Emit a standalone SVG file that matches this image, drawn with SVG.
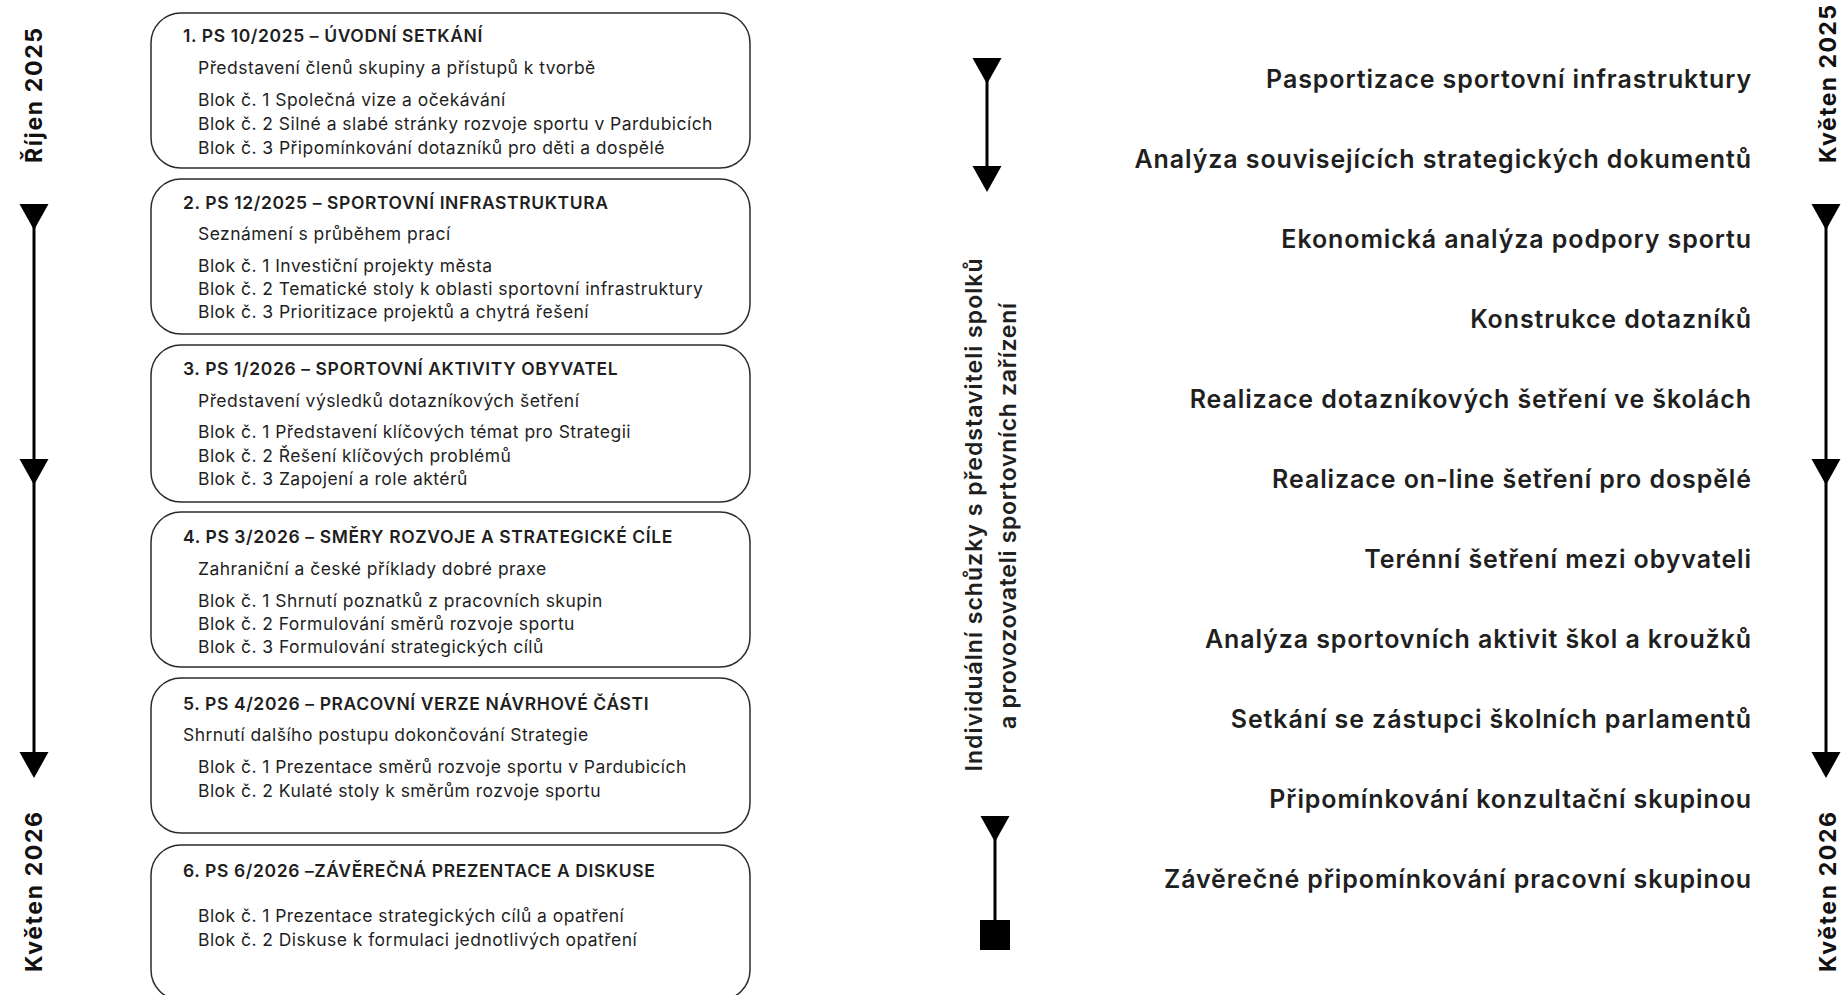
<svg xmlns="http://www.w3.org/2000/svg" xmlns:xlink="http://www.w3.org/1999/xlink" width="1843" height="995" viewBox="0 0 1843 995">
<style>
  .box { fill: #ffffff; stroke: #2b2b2b; stroke-width: 1.5; }
  .ttl { font-family: Inter, "Liberation Sans", sans-serif; font-size: 17.5px; font-weight: 600; letter-spacing: 0.6px; fill: #1f1f1f; }
  .txt { font-family: Inter, "Liberation Sans", sans-serif; font-size: 17.5px; font-weight: 400; letter-spacing: 0.45px; fill: #1f1f1f; }
  .step { font-family: Inter, "Liberation Sans", sans-serif; font-size: 25px; font-weight: 600; letter-spacing: 0.9px; fill: #1f1f1f; text-anchor: end; }
  .date { font-family: Inter, "Liberation Sans", sans-serif; font-size: 23px; font-weight: 700; fill: #111111; }
  .mid { font-family: Inter, "Liberation Sans", sans-serif; font-size: 23px; font-weight: 600; fill: #1f1f1f; text-anchor: middle; }
  .line { stroke: #000000; stroke-width: 3; fill: none; }
  .head { fill: #000000; }
</style>
<defs>
  <path id="tri" d="M -14.5 0 L 14.5 0 L 0 26 Z"/>
</defs>

<!-- left date labels -->
<g id="date-rijen-2025"><text class="date" transform="translate(42,163) rotate(-90)" textLength="135" lengthAdjust="spacing">Říjen 2025</text></g>
<g id="date-kveten-2026-left"><text class="date" transform="translate(42,972) rotate(-90)" textLength="160" lengthAdjust="spacing">Květen 2026</text></g>

<!-- right date labels -->
<g id="date-kveten-2025"><text class="date" transform="translate(1836,163) rotate(-90)" textLength="158" lengthAdjust="spacing">Květen 2025</text></g>
<g id="date-kveten-2026-right"><text class="date" transform="translate(1836,972) rotate(-90)" textLength="160" lengthAdjust="spacing">Květen 2026</text></g>

<!-- boxes -->
<g id="box1">
  <rect class="box" x="151" y="13" width="599" height="155" rx="30" ry="30"/>
  <text class="ttl" x="183" y="42">1. PS 10/2025 – ÚVODNÍ SETKÁNÍ</text>
  <text class="txt" x="198" y="74">Představení členů skupiny a přístupů k tvorbě</text>
  <text class="txt" x="198" y="106">Blok č. 1 Společná vize a očekávání</text>
  <text class="txt" x="198" y="130">Blok č. 2 Silné a slabé stránky rozvoje sportu v Pardubicích</text>
  <text class="txt" x="198" y="154">Blok č. 3 Připomínkování dotazníků pro děti a dospělé</text>
</g>
<g id="box2">
  <rect class="box" x="151" y="179" width="599" height="155" rx="30" ry="30"/>
  <text class="ttl" x="183" y="209">2. PS 12/2025 – SPORTOVNÍ INFRASTRUKTURA</text>
  <text class="txt" x="198" y="240">Seznámení s průběhem prací</text>
  <text class="txt" x="198" y="272">Blok č. 1 Investiční projekty města</text>
  <text class="txt" x="198" y="295">Blok č. 2 Tematické stoly k oblasti sportovní infrastruktury</text>
  <text class="txt" x="198" y="318">Blok č. 3 Prioritizace projektů a chytrá řešení</text>
</g>
<g id="box3">
  <rect class="box" x="151" y="345" width="599" height="157" rx="30" ry="30"/>
  <text class="ttl" x="183" y="375">3. PS 1/2026 – SPORTOVNÍ AKTIVITY OBYVATEL</text>
  <text class="txt" x="198" y="407">Představení výsledků dotazníkových šetření</text>
  <text class="txt" x="198" y="438">Blok č. 1 Představení klíčových témat pro Strategii</text>
  <text class="txt" x="198" y="462">Blok č. 2 Řešení klíčových problémů</text>
  <text class="txt" x="198" y="485">Blok č. 3 Zapojení a role aktérů</text>
</g>
<g id="box4">
  <rect class="box" x="151" y="512" width="599" height="155" rx="30" ry="30"/>
  <text class="ttl" x="183" y="543">4. PS 3/2026 – SMĚRY ROZVOJE A STRATEGICKÉ CÍLE</text>
  <text class="txt" x="198" y="575">Zahraniční a české příklady dobré praxe</text>
  <text class="txt" x="198" y="607">Blok č. 1 Shrnutí poznatků z pracovních skupin</text>
  <text class="txt" x="198" y="630">Blok č. 2 Formulování směrů rozvoje sportu</text>
  <text class="txt" x="198" y="653">Blok č. 3 Formulování strategických cílů</text>
</g>
<g id="box5">
  <rect class="box" x="151" y="678" width="599" height="155" rx="30" ry="30"/>
  <text class="ttl" x="183" y="710">5. PS 4/2026 – PRACOVNÍ VERZE NÁVRHOVÉ ČÁSTI</text>
  <text class="txt" x="183" y="741">Shrnutí dalšího postupu dokončování Strategie</text>
  <text class="txt" x="198" y="773">Blok č. 1 Prezentace směrů rozvoje sportu v Pardubicích</text>
  <text class="txt" x="198" y="797">Blok č. 2 Kulaté stoly k směrům rozvoje sportu</text>
</g>
<g id="box6">
  <rect class="box" x="151" y="845" width="599" height="155" rx="30" ry="30"/>
  <text class="ttl" x="183" y="877">6. PS 6/2026 –ZÁVĚREČNÁ PREZENTACE A DISKUSE</text>
  <text class="txt" x="198" y="922">Blok č. 1 Prezentace strategických cílů a opatření</text>
  <text class="txt" x="198" y="946">Blok č. 2 Diskuse k formulaci jednotlivých opatření</text>
</g>

<!-- middle vertical label -->
<g id="individual-meetings">
  <text class="mid" transform="translate(982,515) rotate(-90)" textLength="513" lengthAdjust="spacing">Individuální schůzky s představiteli spolků</text>
  <text class="mid" transform="translate(1016,516) rotate(-90)" textLength="426" lengthAdjust="spacing">a provozovateli sportovních zařízení</text>
</g>

<!-- right list -->
<g id="steps">
  <text class="step" x="1752" y="88">Pasportizace sportovní infrastruktury</text>
  <text class="step" x="1752" y="168">Analýza souvisejících strategických dokumentů</text>
  <text class="step" x="1752" y="248">Ekonomická analýza podpory sportu</text>
  <text class="step" x="1752" y="328">Konstrukce dotazníků</text>
  <text class="step" x="1752" y="408">Realizace dotazníkových šetření ve školách</text>
  <text class="step" x="1752" y="488">Realizace on-line šetření pro dospělé</text>
  <text class="step" x="1752" y="568">Terénní šetření mezi obyvateli</text>
  <text class="step" x="1752" y="648">Analýza sportovních aktivit škol a kroužků</text>
  <text class="step" x="1752" y="728">Setkání se zástupci školních parlamentů</text>
  <text class="step" x="1752" y="808">Připomínkování konzultační skupinou</text>
  <text class="step" x="1752" y="888">Závěrečné připomínkování pracovní skupinou</text>
</g>

<!-- connectors -->
<g id="connectors">
  <g id="timeline-left">
    <line class="line" x1="34" y1="210" x2="34" y2="770"/>
    <use href="#tri" xlink:href="#tri" class="head" x="34" y="204"/>
    <use href="#tri" xlink:href="#tri" class="head" x="34" y="459"/>
    <use href="#tri" xlink:href="#tri" class="head" x="34" y="752"/>
  </g>
  <g id="timeline-right">
    <line class="line" x1="1826" y1="210" x2="1826" y2="770"/>
    <use href="#tri" xlink:href="#tri" class="head" x="1826" y="204"/>
    <use href="#tri" xlink:href="#tri" class="head" x="1826" y="459"/>
    <use href="#tri" xlink:href="#tri" class="head" x="1826" y="752"/>
  </g>
  <g id="timeline-mid-top">
    <line class="line" x1="987" y1="62" x2="987" y2="180"/>
    <use href="#tri" xlink:href="#tri" class="head" x="987" y="58"/>
    <use href="#tri" xlink:href="#tri" class="head" x="987" y="166"/>
  </g>
  <g id="timeline-mid-bottom">
    <line class="line" x1="995" y1="820" x2="995" y2="925"/>
    <use href="#tri" xlink:href="#tri" class="head" x="995" y="816"/>
    <rect class="head" x="980" y="920" width="30" height="30"/>
  </g>
</g>
</svg>
